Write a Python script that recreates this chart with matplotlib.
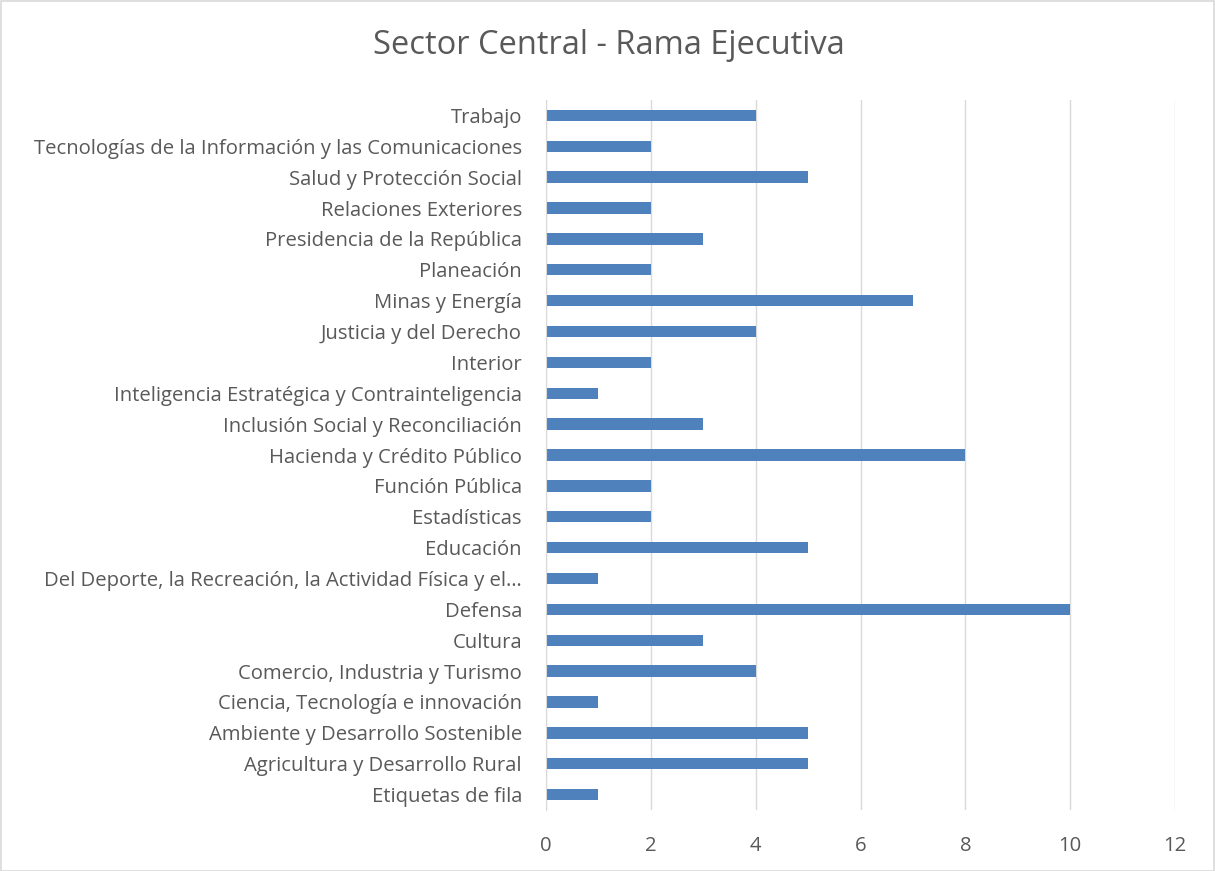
import matplotlib
matplotlib.use("Agg")
import matplotlib.pyplot as plt
from matplotlib.patches import Rectangle

categories = [
    "Etiquetas de fila",
    "Agricultura y Desarrollo Rural",
    "Ambiente y Desarrollo Sostenible",
    "Ciencia, Tecnología e innovación",
    "Comercio, Industria y Turismo",
    "Cultura",
    "Defensa",
    "Del Deporte, la Recreación, la Actividad Física y el…",
    "Educación",
    "Estadísticas",
    "Función Pública",
    "Hacienda y Crédito Público",
    "Inclusión Social y Reconciliación",
    "Inteligencia Estratégica y Contrainteligencia",
    "Interior",
    "Justicia y del Derecho",
    "Minas y Energía",
    "Planeación",
    "Presidencia de la República",
    "Relaciones Exteriores",
    "Salud y Protección Social",
    "Tecnologías de la Información y las Comunicaciones",
    "Trabajo",
]
values = [1, 5, 5, 1, 4, 3, 10, 1, 5, 2, 2, 8, 3, 1, 2, 4, 7, 2, 3, 2, 5, 2, 4]
xticks = [0, 2, 4, 6, 8, 10, 12]

plt.rcParams['font.family'] = ['Open Sans', 'DejaVu Sans']

W, H = 1215, 871
fig = plt.figure(figsize=(W / 100, H / 100), dpi=100)
ax = fig.add_axes([546 / W, 1 - 810 / H, (1175 - 546) / W, (810 - 100) / H])

ypos = list(range(len(categories)))
ax.barh(ypos, values, height=0.37, color="#4F81BD", zorder=3)
ax.set_xlim(0, 12)
ax.set_ylim(-0.5, len(categories) - 0.5)
ax.set_xticks(xticks)
ax.set_xticklabels([str(t) for t in xticks])
ax.set_yticks(ypos)
ax.set_yticklabels(categories)
ax.tick_params(axis='both', length=0, labelsize=14.6, colors="#595959")
ax.tick_params(axis='y', pad=17.3)
ax.tick_params(axis='x', pad=19)
ax.grid(axis='x', color="#D9D9D9", linewidth=1, zorder=0)
for s in ['top', 'right', 'bottom']:
    ax.spines[s].set_visible(False)
ax.spines['left'].set_color("#D9D9D9")
ax.spines['left'].set_zorder(4)

fig.text(609 / W, 1 - 45 / H, "Sector Central - Rama Ejecutiva", ha='center', va='center',
         fontsize=23.5, color="#595959")

fig.patches.append(Rectangle((0.5 / W, 0.5 / H), 1 - 2 / W, 1 - 2 / H, transform=fig.transFigure,
                             fill=False, edgecolor="#D9D9D9", linewidth=1.2))

fig.savefig("out.png", dpi=100, facecolor="white")
